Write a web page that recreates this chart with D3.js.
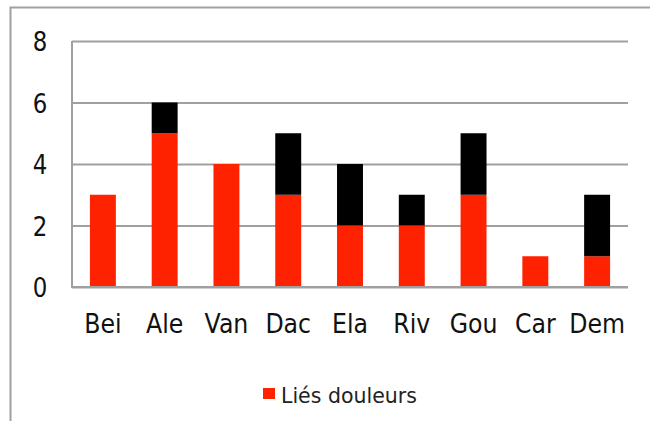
<!DOCTYPE html>
<html>
<head>
<meta charset="utf-8">
<script src="https://cdn.jsdelivr.net/npm/d3@7"></script>
<style>
  body { margin: 0; background: #fff; }
  svg { display: block; font-family: "DejaVu Sans", Verdana, sans-serif; }
</style>
</head>
<body>
<div id="chart"></div>
<script>
// categories and stacked values
const CATEGORIES = ["Bei", "Ale", "Van", "Dac", "Ela", "Riv", "Gou", "Car", "Dem"];
const LIES_DOULEURS = [3, 5, 4, 3, 2, 2, 3, 1, 1];
const AUTRES = [0, 1, 0, 2, 2, 1, 2, 0, 2];
const Y_TICKS = [0, 2, 4, 6, 8];

const RED = "#ff2200", BLACK = "#000000", GRID = "#a0a0a0";

const svg = d3.select("#chart").append("svg").attr("width", 650).attr("height", 421);

// outer frame (cut by the window on right/bottom)
svg.append("rect").attr("x", 10.5).attr("y", 7.5).attr("width", 700).attr("height", 500)
  .attr("fill", "none").attr("stroke", GRID).attr("stroke-width", 2);

const m = { l: 72, t: 41, r: 628, b: 287 };
const x = d3.scaleBand().domain(CATEGORIES).range([m.l, m.r]).paddingInner(0.58).paddingOuter(0.29);
const y = d3.scaleLinear().domain([0, 8]).range([m.b, m.t]);

// gridlines
const g = svg.append("g");
g.append("g").attr("transform", `translate(${m.l},0)`)
  .call(d3.axisLeft(y).tickValues(Y_TICKS).tickSize(-(m.r - m.l)).tickFormat(""))
  .call(gr => { gr.select(".domain").remove(); gr.selectAll("line").attr("stroke", GRID).attr("stroke-width", 2); });

// stacked bars
const rows = CATEGORIES.map((c, i) => ({ cat: c, a: LIES_DOULEURS[i], b: AUTRES[i] }));
const stack = d3.stack().keys(["a", "b"])(rows);
const colors = { a: RED, b: BLACK };
stack.forEach(layer => {
  g.append("g").selectAll("rect").data(layer).enter().append("rect")
    .attr("x", d => x(d.data.cat)).attr("width", x.bandwidth())
    .attr("y", d => y(d[1])).attr("height", d => y(d[0]) - y(d[1]))
    .attr("fill", colors[layer.key]);
});

// axis lines
g.append("line").attr("x1", m.l).attr("x2", m.l).attr("y1", m.t).attr("y2", m.b + 1)
  .attr("stroke", GRID).attr("stroke-width", 2);
g.append("line").attr("x1", m.l).attr("x2", m.r).attr("y1", m.b).attr("y2", m.b)
  .attr("stroke", GRID).attr("stroke-width", 2);

// y labels (font looks slightly condensed in the original)
g.selectAll(".ylab").data(Y_TICKS).enter().append("text")
  .attr("transform", d => `translate(40,${y(d) + 10}) scale(0.88,1)`).attr("text-anchor", "middle")
  .style("font-size", "26px").style("fill", "#111").text(d => d);

// x labels
g.selectAll(".xlab").data(CATEGORIES).enter().append("text")
  .attr("transform", d => `translate(${x(d) + x.bandwidth() / 2},333) scale(0.91,1)`).attr("text-anchor", "middle")
  .style("font-size", "26px").style("fill", "#111").text(d => d);

// legend
svg.append("rect").attr("x", 263).attr("y", 388).attr("width", 12).attr("height", 11).attr("fill", RED);
svg.append("text").attr("x", 281).attr("y", 403).style("font-size", "20.5px").style("fill", "#222").text("Liés douleurs");
</script>
</body>
</html>
